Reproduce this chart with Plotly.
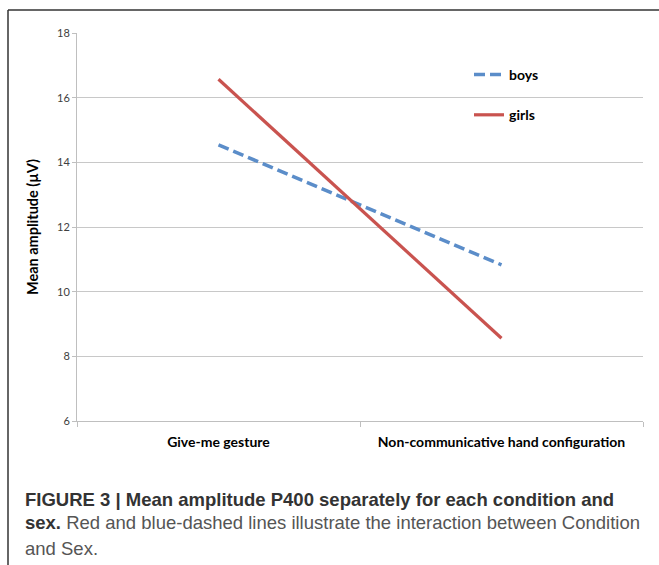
import plotly.graph_objects as go

conditions = ["Give-me gesture", "Non-communicative hand configuration"]
boys = [14.54, 10.83]
girls = [16.57, 8.56]
y_ticks = [6, 8, 10, 12, 14, 16, 18]

W, H = 659, 565
L, R, T, B = 77, 16, 33, 144
PW = W - L - R
PH = H - T - B

def px(x):
    return (x - L) / PW

def py(y):
    return (H - B - y) / PH

fig = go.Figure()
fig.add_trace(go.Scatter(
    x=conditions, y=boys, mode="lines", name="boys", legendgroup="b",
    line=dict(color="#5B8DC9", width=3.5, dash="11px,5px"),
))
fig.add_trace(go.Scatter(
    x=conditions, y=girls, mode="lines", name="girls", legendgroup="g",
    line=dict(color="#C9534F", width=3.2),
))

chart_font = "Lato, 'Open Sans', sans-serif"
cap_font = "'Liberation Sans', Arial, sans-serif"

fig.update_layout(
    width=W, height=H,
    margin=dict(l=L, r=R, t=T, b=B, autoexpand=False),
    paper_bgcolor="white", plot_bgcolor="white",
    font=dict(family=chart_font, color="#000"),
    showlegend=True,
    legend=dict(
        x=px(469), y=py(59), xanchor="left", yanchor="top",
        font=dict(size=14, color="#000", family=chart_font, weight="bold"),
        traceorder="grouped", tracegroupgap=19,
        bgcolor="rgba(0,0,0,0)", itemwidth=30,
    ),
    xaxis=dict(
        type="category", range=[-0.5, 1.5], showgrid=False,
        showline=True, linecolor="#BFBFBF", linewidth=1,
        tickson="boundaries", ticks="outside", ticklen=5, tickcolor="#BFBFBF",
        ticklabelstandoff=8,
        tickfont=dict(size=14, color="#000", family=chart_font, weight="bold"),
        zeroline=False, fixedrange=True,
    ),
    yaxis=dict(
        range=[6, 18], tickvals=y_ticks, showgrid=True, gridcolor="#C8C8C8",
        gridwidth=1, showline=True, linecolor="#BFBFBF", linewidth=1,
        ticks="outside", ticklen=4, tickcolor="#BFBFBF",
        tickfont=dict(size=11, color="#404040", family=chart_font),
        zeroline=False,
        title=dict(text="Mean amplitude (µV)", standoff=14,
                   font=dict(size=14.5, color="#000", family=chart_font, weight="bold")),
    ),
)

# figure border (top and left)
fig.add_shape(type="line", xref="paper", yref="paper",
              x0=px(8), x1=px(W + 5), y0=py(10), y1=py(10),
              line=dict(color="#333333", width=1.5))
fig.add_shape(type="line", xref="paper", yref="paper",
              x0=px(8), x1=px(8), y0=py(10), y1=py(H + 5),
              line=dict(color="#333333", width=1.5))

cap_lines = [
    "<b>FIGURE 3 | Mean amplitude P400 separately for each condition and</b>",
    "<b>sex.</b> <span style='color:#555555'>Red and blue-dashed lines illustrate the interaction between Condition</span>",
    "<span style='color:#555555'>and Sex.</span>",
]
cap_y = [499, 522, 548]
for txt, yy in zip(cap_lines, cap_y):
    fig.add_annotation(
        text=txt, xref="paper", yref="paper", x=px(23), y=py(yy),
        xanchor="left", yanchor="middle", showarrow=False, align="left",
        font=dict(size=18.5, color="#333333", family=cap_font),
    )

fig.write_html("out.html", config={"displayModeBar": False},
               post_script="document.body.style.margin='0';document.body.style.overflow='hidden';")
